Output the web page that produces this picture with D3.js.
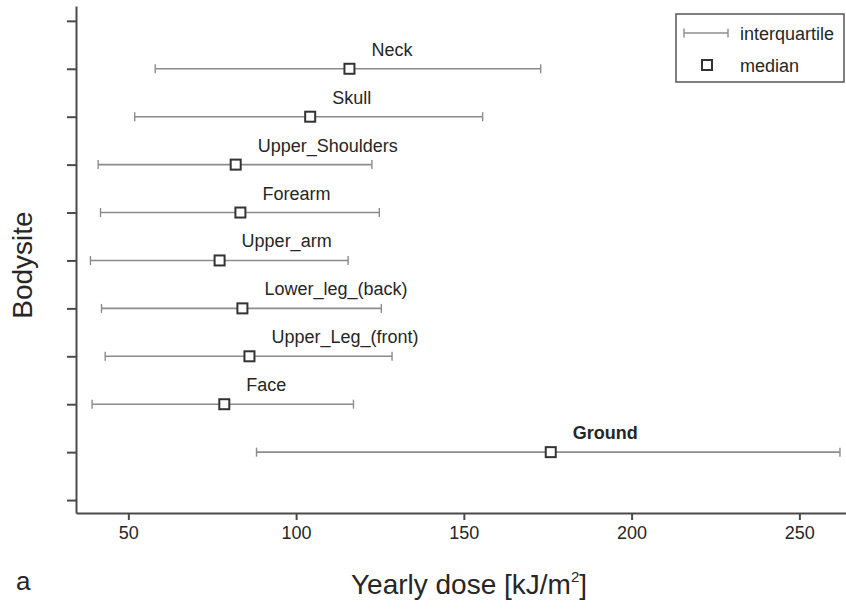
<!DOCTYPE html>
<html>
<head>
<meta charset="utf-8">
<script src="https://cdn.jsdelivr.net/npm/d3@7"></script>
<style>
  body { margin: 0; background: #fff; }
  svg { display: block; font-family: "Liberation Sans", Arial, sans-serif; }
</style>
</head>
<body>
<svg width="846" height="609"></svg>
<script>
// body sites, bottom to top
var sites = ["Ground", "Face", "Upper_Leg_(front)", "Lower_leg_(back)", "Upper_arm",
  "Forearm", "Upper_Shoulders", "Skull", "Neck"];
// interquartile range and median, kJ/m2 per year
var q1 = [88.2, 39.2, 43.1, 42.0, 38.7, 41.7, 41.0, 51.9, 58.0];
var median = [175.9, 78.6, 86.1, 84.0, 77.2, 83.4, 82.0, 104.2, 115.9];
var q3 = [262.1, 117.1, 128.6, 125.4, 115.5, 124.8, 122.6, 155.6, 172.9];
var xTicks = [50, 100, 150, 200, 250];
var yTicks = d3.range(0, 11);

var svg = d3.select("svg");
var axisColor = "#4a4a4a",
  barColor = "#8c8c8c",
  textColor = "#262626";

var x = d3.scaleLinear().domain([34.4, 263.9]).range([76, 846]);
var y = d3.scaleLinear().domain([-0.27, 10.31]).range([513, 6]);

var rows = sites.map(function(s, i) {
  return { site: s, lo: q1[i], med: median[i], hi: q3[i], pos: i + 1 };
});

//axes
var xAxis = svg.append("g")
  .attr("transform", "translate(0,513)")
  .call(d3.axisBottom(x).tickValues(xTicks).tickSize(7).tickPadding(6).tickSizeOuter(0));
var yAxis = svg.append("g")
  .attr("transform", "translate(76,0)")
  .call(d3.axisLeft(y).tickValues(yTicks).tickSize(9).tickFormat("").tickSizeOuter(0));

[xAxis, yAxis].forEach(function(a) {
  a.select(".domain").attr("stroke", axisColor).attr("stroke-width", 2);
  a.selectAll(".tick line").attr("stroke", axisColor).attr("stroke-width", 2);
});
xAxis.selectAll(".tick text")
  .attr("fill", textColor)
  .style("font-size", "18px");

//whiskers
var g = svg.append("g");
g.selectAll("line.iqr")
  .data(rows)
  .enter().append("line")
  .attr("class", "iqr")
  .attr("x1", function(d) { return x(d.lo); })
  .attr("x2", function(d) { return x(d.hi); })
  .attr("y1", function(d) { return y(d.pos); })
  .attr("y2", function(d) { return y(d.pos); })
  .attr("stroke", barColor)
  .attr("stroke-width", 1.6);

["lo", "hi"].forEach(function(k) {
  g.selectAll("line.cap-" + k)
    .data(rows)
    .enter().append("line")
    .attr("class", "cap-" + k)
    .attr("x1", function(d) { return x(d[k]); })
    .attr("x2", function(d) { return x(d[k]); })
    .attr("y1", function(d) { return y(d.pos) - 4.5; })
    .attr("y2", function(d) { return y(d.pos) + 4.5; })
    .attr("stroke", barColor)
    .attr("stroke-width", 1.4);
});

//medians
g.selectAll("rect.median")
  .data(rows)
  .enter().append("rect")
  .attr("class", "median")
  .attr("x", function(d) { return x(d.med) - 5; })
  .attr("y", function(d) { return y(d.pos) - 5; })
  .attr("width", 10)
  .attr("height", 10)
  .attr("fill", "#fff")
  .attr("stroke", "#333")
  .attr("stroke-width", 2);

//site labels
g.selectAll("text.site")
  .data(rows)
  .enter().append("text")
  .attr("class", "site")
  .attr("x", function(d) { return x(d.med) + 22; })
  .attr("y", function(d) { return y(d.pos) - 13; })
  .attr("fill", textColor)
  .style("font-size", "18px")
  .style("font-weight", function(d) { return d.site === "Ground" ? "bold" : "normal"; })
  .text(function(d) { return d.site; });

//legend
var legend = svg.append("g");
legend.append("rect")
  .attr("x", 676).attr("y", 14).attr("width", 168).attr("height", 68)
  .attr("fill", "#fff").attr("stroke", "#555").attr("stroke-width", 1.5);
legend.append("line")
  .attr("x1", 684).attr("x2", 728).attr("y1", 33).attr("y2", 33)
  .attr("stroke", barColor).attr("stroke-width", 1.6);
[684, 728].forEach(function(cx) {
  legend.append("line")
    .attr("x1", cx).attr("x2", cx).attr("y1", 28.5).attr("y2", 37.5)
    .attr("stroke", barColor).attr("stroke-width", 1.4);
});
legend.append("rect")
  .attr("x", 702).attr("y", 60).attr("width", 10).attr("height", 10)
  .attr("fill", "#fff").attr("stroke", "#333").attr("stroke-width", 2);
legend.append("text").attr("x", 740).attr("y", 40)
  .attr("fill", textColor).style("font-size", "18px").text("interquartile");
legend.append("text").attr("x", 740).attr("y", 72)
  .attr("fill", textColor).style("font-size", "18px").text("median");

//axis titles
var xTitle = svg.append("text")
  .attr("x", 469).attr("y", 594)
  .attr("text-anchor", "middle")
  .attr("fill", textColor)
  .style("font-size", "28px");
xTitle.append("tspan").text("Yearly dose [kJ/m");
xTitle.append("tspan").attr("dy", -12).style("font-size", "15px").text("2");
xTitle.append("tspan").attr("dy", 12).text("]");

svg.append("text")
  .attr("transform", "translate(32,265) rotate(-90)")
  .attr("text-anchor", "middle")
  .attr("fill", textColor)
  .style("font-size", "28px")
  .text("Bodysite");

svg.append("text")
  .attr("x", 16).attr("y", 590)
  .attr("fill", textColor)
  .style("font-size", "26px")
  .text("a");
</script>
</body>
</html>
